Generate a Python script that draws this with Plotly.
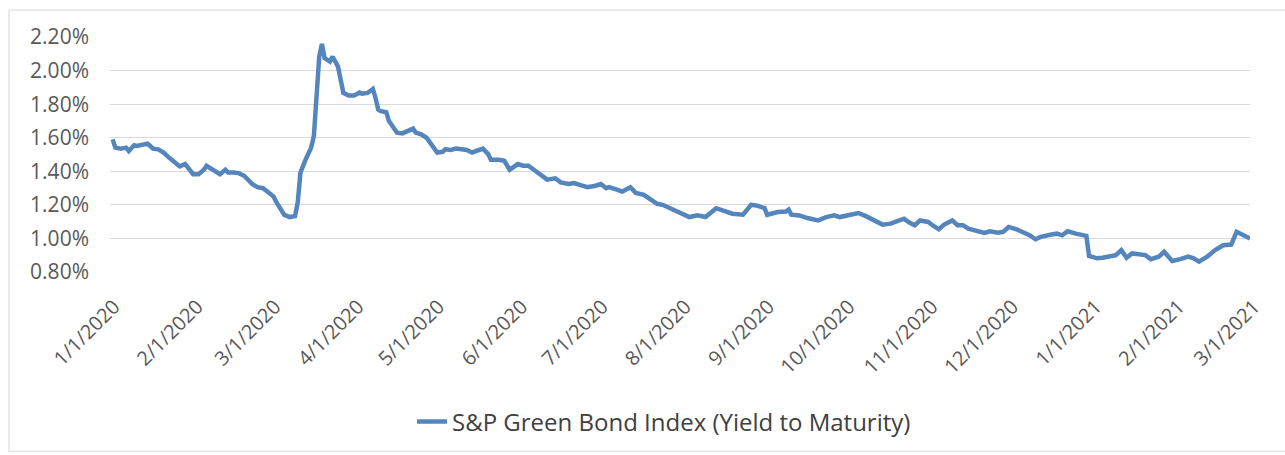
import plotly.graph_objects as go

series_name = "S&P Green Bond Index (Yield to Maturity)"

dates = [
    "2020-01-02", "2020-01-03", "2020-01-05", "2020-01-07", "2020-01-08", "2020-01-10", "2020-01-11",
    "2020-01-13", "2020-01-15", "2020-01-16", "2020-01-17", "2020-01-19", "2020-01-21", "2020-01-23",
    "2020-01-25", "2020-01-27", "2020-01-29", "2020-01-30", "2020-02-01", "2020-02-03", "2020-02-05",
    "2020-02-06", "2020-02-08", "2020-02-10", "2020-02-11", "2020-02-13", "2020-02-14", "2020-02-16",
    "2020-02-18", "2020-02-20", "2020-02-22", "2020-02-23", "2020-02-25", "2020-02-27", "2020-02-29",
    "2020-03-02", "2020-03-03", "2020-03-04", "2020-03-05", "2020-03-06", "2020-03-08", "2020-03-10",
    "2020-03-11", "2020-03-12", "2020-03-14", "2020-03-16", "2020-03-17", "2020-03-18", "2020-03-19",
    "2020-03-20", "2020-03-21", "2020-03-23", "2020-03-24", "2020-03-26", "2020-03-27", "2020-03-28",
    "2020-03-30", "2020-04-01", "2020-04-03", "2020-04-04", "2020-04-06", "2020-04-08", "2020-04-09",
    "2020-04-10", "2020-04-11", "2020-04-13", "2020-04-14", "2020-04-16", "2020-04-17", "2020-04-19",
    "2020-04-21", "2020-04-23", "2020-04-24", "2020-04-26", "2020-04-28", "2020-04-30", "2020-05-02",
    "2020-05-04", "2020-05-05", "2020-05-07", "2020-05-09", "2020-05-11", "2020-05-13", "2020-05-15",
    "2020-05-19", "2020-05-21", "2020-05-22", "2020-05-25", "2020-05-27", "2020-05-29", "2020-06-01",
    "2020-06-03", "2020-06-05", "2020-06-08", "2020-06-10", "2020-06-12", "2020-06-15", "2020-06-17",
    "2020-06-20", "2020-06-22", "2020-06-25", "2020-06-27", "2020-06-30", "2020-07-02", "2020-07-04",
    "2020-07-05", "2020-07-08", "2020-07-10", "2020-07-13", "2020-07-15", "2020-07-18", "2020-07-20",
    "2020-07-23", "2020-07-25", "2020-07-28", "2020-07-30", "2020-08-02", "2020-08-04", "2020-08-07",
    "2020-08-10", "2020-08-14", "2020-08-17", "2020-08-20", "2020-08-24", "2020-08-27", "2020-08-29",
    "2020-09-01", "2020-09-02", "2020-09-06", "2020-09-09", "2020-09-10", "2020-09-11", "2020-09-14",
    "2020-09-17", "2020-09-21", "2020-09-24", "2020-09-27", "2020-09-29", "2020-10-02", "2020-10-06",
    "2020-10-09", "2020-10-12", "2020-10-15", "2020-10-18", "2020-10-20", "2020-10-23", "2020-10-25",
    "2020-10-27", "2020-10-29", "2020-11-01", "2020-11-03", "2020-11-05", "2020-11-07", "2020-11-10",
    "2020-11-12", "2020-11-14", "2020-11-16", "2020-11-19", "2020-11-22", "2020-11-24", "2020-11-27",
    "2020-11-29", "2020-12-01", "2020-12-04", "2020-12-07", "2020-12-09", "2020-12-11", "2020-12-13",
    "2020-12-17", "2020-12-19", "2020-12-21", "2020-12-23", "2020-12-26", "2020-12-28", "2020-12-30",
    "2020-12-31", "2021-01-03", "2021-01-05", "2021-01-08", "2021-01-10", "2021-01-12", "2021-01-14",
    "2021-01-16", "2021-01-18", "2021-01-21", "2021-01-23", "2021-01-26", "2021-01-28", "2021-01-31",
    "2021-02-03", "2021-02-06", "2021-02-08", "2021-02-10", "2021-02-13", "2021-02-16", "2021-02-19",
    "2021-02-22", "2021-02-24", "2021-02-26", "2021-03-01",
]

yield_pct = [
    1.590, 1.541, 1.535, 1.541, 1.521, 1.555, 1.551,
    1.561, 1.565, 1.551, 1.535, 1.531, 1.512, 1.482,
    1.456, 1.429, 1.443, 1.423, 1.383, 1.383, 1.409,
    1.433, 1.413, 1.393, 1.383, 1.409, 1.393, 1.393,
    1.389, 1.373, 1.344, 1.324, 1.305, 1.299, 1.275,
    1.249, 1.216, 1.190, 1.170, 1.140, 1.127, 1.133,
    1.216, 1.393, 1.472, 1.541, 1.610, 1.847, 2.083,
    2.159, 2.074, 2.054, 2.083, 2.024, 1.946, 1.867,
    1.851, 1.851, 1.870, 1.863, 1.867, 1.891, 1.837,
    1.768, 1.758, 1.752, 1.699, 1.650, 1.630, 1.626,
    1.640, 1.654, 1.630, 1.620, 1.600, 1.551, 1.512,
    1.516, 1.531, 1.527, 1.535, 1.531, 1.527, 1.512,
    1.535, 1.502, 1.468, 1.468, 1.462, 1.409, 1.443,
    1.433, 1.433, 1.397, 1.373, 1.350, 1.358, 1.334,
    1.324, 1.330, 1.314, 1.305, 1.314, 1.324, 1.299,
    1.305, 1.291, 1.279, 1.305, 1.271, 1.259, 1.236,
    1.206, 1.200, 1.180, 1.160, 1.147, 1.127, 1.137,
    1.127, 1.180, 1.160, 1.147, 1.141, 1.200, 1.196,
    1.180, 1.141, 1.157, 1.160, 1.172, 1.141, 1.137,
    1.121, 1.107, 1.127, 1.137, 1.127, 1.137, 1.151,
    1.131, 1.107, 1.082, 1.088, 1.098, 1.117, 1.094,
    1.078, 1.107, 1.098, 1.074, 1.054, 1.082, 1.107,
    1.078, 1.078, 1.058, 1.042, 1.033, 1.042, 1.034,
    1.039, 1.068, 1.054, 1.034, 1.018, 0.995, 1.009,
    1.023, 1.028, 1.018, 1.042, 1.028, 1.023, 1.015,
    0.895, 0.881, 0.885, 0.891, 0.900, 0.930, 0.885,
    0.910, 0.904, 0.900, 0.876, 0.891, 0.920, 0.865,
    0.876, 0.891, 0.881, 0.861, 0.891, 0.930, 0.959,
    0.963, 1.039, 1.023, 0.999,
]

tick_dates = [
    "2020-01-01", "2020-02-01", "2020-03-01", "2020-04-01", "2020-05-01", "2020-06-01",
    "2020-07-01", "2020-08-01", "2020-09-01", "2020-10-01", "2020-11-01", "2020-12-01",
    "2021-01-01", "2021-02-01", "2021-03-01",
]
tick_labels = [
    "1/1/2020", "2/1/2020", "3/1/2020", "4/1/2020", "5/1/2020", "6/1/2020",
    "7/1/2020", "8/1/2020", "9/1/2020", "10/1/2020", "11/1/2020", "12/1/2020",
    "1/1/2021", "2/1/2021", "3/1/2021",
]

W, H = 1285, 455
L, R, T, B = 110, 35, 37, 182
pw, ph = W - L - R, H - T - B

def px(xp):
    return (xp - L) / pw

def py(yp):
    return (H - B - yp) / ph

fig = go.Figure()
fig.add_trace(go.Scatter(
    x=dates, y=yield_pct, mode="lines", name=series_name,
    line=dict(color="#5585bd", width=4.5),
))

font_family = "Open Sans, Liberation Sans, sans-serif"
fig.update_layout(
    width=W, height=H,
    margin=dict(l=L, r=R, t=T, b=B),
    paper_bgcolor="white", plot_bgcolor="white",
    font=dict(family=font_family, color="#595959"),
    showlegend=True,
    legend=dict(
        orientation="h", x=px(412), xanchor="left", y=py(422), yanchor="middle",
        font=dict(size=24, color="#404040"), bgcolor="rgba(0,0,0,0)",
    ),
    xaxis=dict(
        type="date", range=["2020-01-01", "2021-03-01"],
        tickvals=tick_dates, ticktext=tick_labels, tickangle=-45,
        showgrid=False, zeroline=False, showline=False, ticks="",
        tickfont=dict(size=20, color="#595959"), ticklabelstandoff=18, ticklabelshift=4,
    ),
    yaxis=dict(
        range=[0.7995, 2.2005], tick0=0.8, dtick=0.2, tickformat=".2f", ticksuffix="%",
        showgrid=True, gridcolor="#d9d9d9", gridwidth=1, zeroline=False, showline=False,
        ticks="", tickfont=dict(size=21, color="#595959"), ticklabelstandoff=20,
    ),
    shapes=[dict(
        type="rect", xref="paper", yref="paper",
        x0=px(9), x1=px(1295), y0=py(453), y1=py(10),
        line=dict(color="#d9d9d9", width=1), fillcolor="rgba(0,0,0,0)", layer="below",
    )],
)

fig.write_html("out.html")
